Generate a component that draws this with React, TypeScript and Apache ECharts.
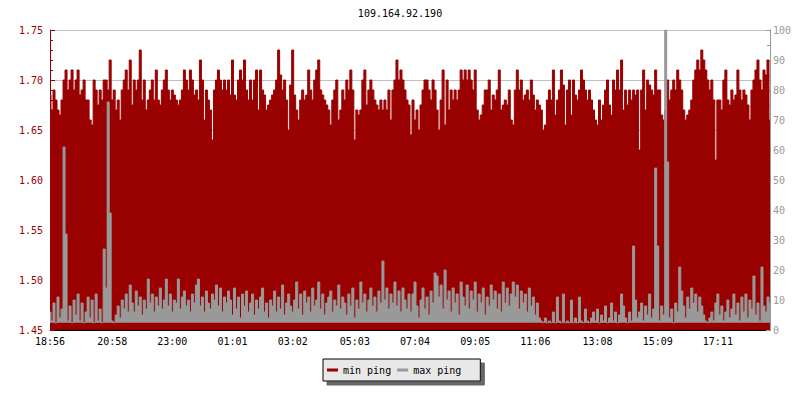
import React, { useEffect, useRef } from 'react';
import * as echarts from 'echarts';

const chartTitle = '109.164.92.190';
const tickLabels = ['18:56', '20:58', '23:00', '01:01', '03:02', '05:03', '07:04', '09:05', '11:06', '13:08', '15:09', '17:11'];
const tickIndex = [0, 31, 61, 91, 121, 152, 182, 212, 242, 273, 303, 333];

const minPing = [
  1.685, 1.67, 1.69, 1.68, 1.67, 1.665, 1.68, 1.70, 1.71, 1.69,
  1.70, 1.71, 1.69, 1.70, 1.71, 1.685, 1.69, 1.70, 1.68, 1.68,
  1.66, 1.655, 1.70, 1.69, 1.675, 1.69, 1.68, 1.70, 1.70, 1.69,
  1.72, 1.68, 1.69, 1.67, 1.68, 1.66, 1.69, 1.70, 1.71, 1.69,
  1.72, 1.675, 1.70, 1.69, 1.70, 1.73, 1.68, 1.70, 1.67, 1.68,
  1.69, 1.70, 1.68, 1.71, 1.68, 1.675, 1.69, 1.70, 1.71, 1.69,
  1.68, 1.69, 1.685, 1.68, 1.675, 1.68, 1.69, 1.71, 1.70, 1.69,
  1.71, 1.70, 1.685, 1.69, 1.68, 1.72, 1.70, 1.66, 1.69, 1.68,
  1.67, 1.64, 1.69, 1.70, 1.71, 1.70, 1.69, 1.70, 1.69, 1.70,
  1.685, 1.72, 1.685, 1.68, 1.70, 1.71, 1.70, 1.72, 1.69, 1.68,
  1.70, 1.68, 1.70, 1.71, 1.67, 1.71, 1.69, 1.685, 1.67, 1.675,
  1.68, 1.685, 1.69, 1.70, 1.73, 1.705, 1.69, 1.70, 1.68, 1.65,
  1.695, 1.73, 1.685, 1.67, 1.66, 1.68, 1.69, 1.68, 1.685, 1.71,
  1.69, 1.68, 1.70, 1.71, 1.72, 1.69, 1.685, 1.68, 1.675, 1.67,
  1.655, 1.68, 1.69, 1.70, 1.66, 1.67, 1.69, 1.68, 1.70, 1.69,
  1.71, 1.69, 1.64, 1.67, 1.665, 1.67, 1.70, 1.71, 1.675, 1.69,
  1.70, 1.69, 1.68, 1.675, 1.67, 1.68, 1.67, 1.68, 1.67, 1.69,
  1.66, 1.69, 1.70, 1.72, 1.70, 1.71, 1.70, 1.69, 1.68, 1.675,
  1.645, 1.68, 1.66, 1.67, 1.65, 1.675, 1.69, 1.70, 1.70, 1.69,
  1.68, 1.70, 1.69, 1.67, 1.65, 1.68, 1.71, 1.655, 1.70, 1.67,
  1.69, 1.68, 1.69, 1.68, 1.69, 1.71, 1.70, 1.71, 1.70, 1.71,
  1.70, 1.69, 1.71, 1.67, 1.66, 1.665, 1.675, 1.69, 1.69, 1.70,
  1.67, 1.685, 1.68, 1.69, 1.71, 1.67, 1.675, 1.68, 1.675, 1.69,
  1.66, 1.655, 1.69, 1.71, 1.69, 1.70, 1.68, 1.685, 1.69, 1.68,
  1.70, 1.685, 1.67, 1.68, 1.675, 1.67, 1.65, 1.655, 1.68, 1.69,
  1.68, 1.71, 1.665, 1.68, 1.69, 1.71, 1.695, 1.655, 1.69, 1.70,
  1.665, 1.70, 1.685, 1.68, 1.69, 1.71, 1.70, 1.69, 1.68, 1.69,
  1.68, 1.67, 1.66, 1.655, 1.68, 1.66, 1.675, 1.69, 1.70, 1.675,
  1.665, 1.70, 1.69, 1.71, 1.69, 1.72, 1.67, 1.69, 1.675, 1.69,
  1.68, 1.69, 1.685, 1.69, 1.63, 1.69, 1.71, 1.67, 1.70, 1.695,
  1.69, 1.685, 1.71, 1.69, 1.69, 1.665, 1.66, 1.67, 1.70, 1.68,
  1.69, 1.70, 1.69, 1.71, 1.70, 1.69, 1.67, 1.66, 1.665, 1.67,
  1.68, 1.70, 1.71, 1.72, 1.71, 1.73, 1.72, 1.71, 1.70, 1.69,
  1.70, 1.68, 1.62, 1.68, 1.68, 1.67, 1.70, 1.71, 1.68, 1.675,
  1.69, 1.68, 1.685, 1.71, 1.69, 1.68, 1.69, 1.685, 1.675, 1.66,
  1.69, 1.70, 1.71, 1.72, 1.70, 1.69, 1.71, 1.705, 1.72, 1.66,
];

const maxPing = [
  6, 3, 9, 2.4, 11, 4, 7, 61, 32, 3,
  8, 2.4, 10, 5, 12, 3, 9, 2.4, 6, 11,
  4, 10, 2.4, 12, 3, 7, 2.4, 27, 14, 76,
  39, 3, 2.4, 5, 8, 4, 10, 7, 12, 6,
  15, 9, 6, 13, 8, 11, 5, 10, 7, 17,
  9, 12, 6, 11, 8, 14, 7, 10, 17, 8,
  12, 6, 10, 9, 17, 7, 11, 13, 8, 10,
  6, 12, 9, 15, 17, 8, 11, 6, 13, 9,
  7, 12, 10, 15, 8, 14, 6, 11, 9, 13,
  10, 5, 14, 7, 11, 4, 12, 8, 13, 6,
  9, 12, 5, 10, 7, 11, 14, 6, 9, 4,
  10, 8, 13, 6, 11, 7, 15, 5, 9, 12,
  8, 6, 10, 16, 7, 12, 5, 13, 9, 11,
  6, 14, 8, 10, 16, 7, 12, 5, 9, 11,
  13, 6, 10, 8, 15, 7, 11, 9, 5, 12,
  8, 14, 4, 10, 7, 16, 9, 12, 6, 10,
  14, 8, 11, 6, 13, 9, 23, 10, 14, 7,
  12, 9, 16, 8, 13, 6, 14, 10, 7, 12,
  6, 12, 16, 8, 4, 10, 14, 7, 11, 5,
  13, 9, 19, 18, 11, 15, 7, 20, 10, 13,
  6, 14, 9, 12, 5, 16, 11, 8, 15, 7,
  13, 10, 16, 6, 12, 9, 14, 5, 11, 8,
  15, 10, 13, 7, 12, 6, 16, 9, 14, 8,
  12, 16, 11, 15, 7, 13, 9, 12, 6, 14,
  8, 11, 5, 9, 4, 3, 2.4, 4, 2.4, 3,
  2.4, 6, 2.4, 11, 3, 2.4, 12, 2.4, 3, 2.4,
  10, 2.4, 4, 2.4, 11, 3, 2.4, 7, 3, 2.4,
  4, 6, 3, 7, 2.4, 5, 3, 8, 2.4, 4,
  9, 3, 6, 2.4, 5, 12, 8, 4, 2.4, 6,
  3, 28, 10, 4, 6, 9, 3, 8, 5, 12,
  4, 7, 54, 28, 3, 8, 5, 100, 56, 4,
  7, 2.4, 9, 6, 21, 13, 8, 4, 11, 7,
  14, 9, 12, 6, 11, 8, 5, 3, 2.4, 4,
  6, 3, 9, 12, 5, 8, 3, 6, 10, 4,
  7, 12, 5, 9, 3, 11, 6, 12, 4, 10,
  7, 18, 5, 9, 3, 21, 8, 6, 11, 9,
];

const RED = '#990000';
const GRAY = '#999999';
const FONT = 'DejaVu Sans Mono';

export default function App() {
  const ref = useRef<HTMLDivElement>(null);
  useEffect(() => {
    if (!ref.current) return;
    const chart = echarts.init(ref.current, null, { renderer: 'svg' });
    const labelAt = new Map<number, string>(tickIndex.map((idx, k) => [idx, tickLabels[k]]));
    const categories = minPing.map((_, i) => String(i));
    chart.setOption({
      animation: false,
      backgroundColor: '#ffffff',
      title: {
        text: chartTitle,
        left: 'center',
        top: 3,
        textStyle: { fontFamily: FONT, fontSize: 10, fontWeight: 'normal', color: '#000' },
      },
      legend: {
        left: 323,
        top: 359,
        padding: [6, 19, 6, 4],
        itemGap: 6,
        itemWidth: 11,
        itemHeight: 3,
        icon: 'rect',
        backgroundColor: '#e8e8e8',
        borderColor: '#000',
        borderWidth: 1,
        shadowColor: '#666',
        shadowBlur: 0,
        shadowOffsetX: 4,
        shadowOffsetY: 4,
        textStyle: { fontFamily: FONT, fontSize: 10, color: '#000' },
        data: [
          { name: 'min ping', itemStyle: { color: RED } },
          { name: 'max ping', itemStyle: { color: GRAY } },
        ],
      },
      grid: { left: 50, right: 30, top: 30, bottom: 70 },
      xAxis: {
        type: 'category',
        data: categories,
        boundaryGap: false,
        axisLine: { show: true, lineStyle: { color: '#000', width: 1 } },
        axisTick: {
          show: true,
          inside: true,
          length: 5,
          interval: (i: number) => labelAt.has(i),
          lineStyle: { color: '#000' },
        },
        axisLabel: {
          interval: (i: number) => labelAt.has(i),
          formatter: (_v: string, i: number) => labelAt.get(i) ?? '',
          fontFamily: FONT,
          fontSize: 10,
          color: '#000',
          margin: 6,
        },
        splitLine: { show: false },
      },
      yAxis: [
        {
          type: 'value',
          min: 1.45,
          max: 1.75,
          interval: 0.05,
          position: 'left',
          axisLine: { show: true, lineStyle: { color: RED } },
          axisTick: { show: true, inside: true, length: 5, lineStyle: { color: RED } },
          minorTick: { show: true, splitNumber: 5, length: 3, lineStyle: { color: RED } },
          axisLabel: {
            color: RED,
            fontFamily: FONT,
            fontSize: 10,
            margin: 7,
            formatter: (v: number) => v.toFixed(2),
          },
          splitLine: { show: true, lineStyle: { color: '#c0c0c0', width: 1 } },
        },
        {
          type: 'value',
          min: 0,
          max: 100,
          interval: 10,
          position: 'right',
          axisLine: { show: true, lineStyle: { color: GRAY } },
          axisTick: { show: true, inside: true, length: 4, lineStyle: { color: GRAY } },
          minorTick: { show: true, splitNumber: 2, length: 3, lineStyle: { color: GRAY } },
          axisLabel: { color: GRAY, fontFamily: FONT, fontSize: 10, margin: 3 },
          splitLine: { show: false },
        },
      ],
      series: [
        {
          name: 'min ping',
          type: 'line',
          yAxisIndex: 0,
          data: minPing,
          step: 'middle',
          symbol: 'none',
          itemStyle: { color: RED },
          lineStyle: { color: RED, width: 1 },
          areaStyle: { color: RED, opacity: 1, origin: 'start' },
          z: 2,
        },
        {
          name: 'max ping',
          type: 'line',
          yAxisIndex: 1,
          data: maxPing,
          step: 'middle',
          symbol: 'none',
          itemStyle: { color: GRAY },
          lineStyle: { color: GRAY, width: 1 },
          areaStyle: { color: GRAY, opacity: 1, origin: 2.4 },
          z: 3,
        },
      ],
    });
    return () => chart.dispose();
  }, []);
  return <div ref={ref} style={{ position: 'fixed', left: 0, top: 0, width: 800, height: 400 }} />;
}
